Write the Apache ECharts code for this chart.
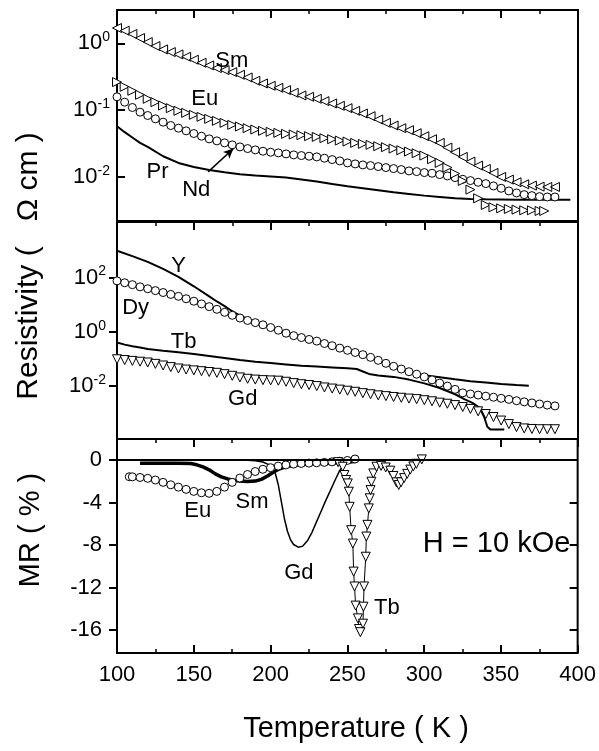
<!DOCTYPE html>
<html><head><meta charset="utf-8">
<script src="https://cdn.jsdelivr.net/npm/echarts@6/dist/echarts.min.js"></script>
<style>html,body{margin:0;padding:0;background:#fff}#c{width:599px;height:751px}</style>
</head><body><div id="c"></div>
<script>
// ---------- DATA (temperature K, log10 resistivity in Ω cm / MR in %) ----------
const xTicks = [100, 150, 200, 250, 300, 350, 400];
const topDecades = [-2, -1, 0];          // 10^-2 .. 10^0
const midDecades = [-2, 0, 2];           // 10^-2 .. 10^2
const mrTicks = [-16, -12, -8, -4, 0];

// top panel: log10(rho)
const topSm = [[100,0.23],[105,0.19],[110,0.14],[115,0.08],[120,0.02],[125,-0.04],[130,-0.09],[135,-0.13],[140,-0.165],[145,-0.2],[150,-0.245],[155,-0.29],[160,-0.33],[165,-0.37],[170,-0.4],[175,-0.43],[180,-0.47],[185,-0.51],[190,-0.56],[195,-0.6],[200,-0.635],[205,-0.665],[210,-0.7],[215,-0.74],[220,-0.78],[225,-0.8],[230,-0.83],[235,-0.865],[240,-0.9],[245,-0.935],[250,-0.97],[255,-1.01],[260,-1.05],[265,-1.09],[270,-1.14],[275,-1.19],[280,-1.23],[285,-1.27],[290,-1.3],[295,-1.345],[300,-1.39],[305,-1.435],[310,-1.49],[315,-1.56],[320,-1.63],[325,-1.7],[330,-1.77],[335,-1.83],[340,-1.88],[345,-1.94],[350,-2.0],[355,-2.04],[360,-2.08],[365,-2.11],[370,-2.13],[375,-2.145],[380,-2.15],[385,-2.15]];
const topEu = [[100,-0.58],[105,-0.65],[110,-0.71],[115,-0.77],[120,-0.83],[125,-0.88],[130,-0.93],[135,-0.97],[140,-1.01],[145,-1.04],[150,-1.07],[155,-1.1],[160,-1.13],[165,-1.16],[170,-1.19],[175,-1.22],[180,-1.245],[185,-1.27],[190,-1.29],[195,-1.31],[200,-1.325],[205,-1.34],[210,-1.355],[215,-1.365],[220,-1.375],[225,-1.39],[230,-1.4],[235,-1.42],[240,-1.435],[245,-1.455],[250,-1.47],[255,-1.49],[260,-1.505],[265,-1.52],[270,-1.54],[275,-1.555],[280,-1.575],[285,-1.6],[290,-1.62],[295,-1.645],[300,-1.68],[305,-1.735],[310,-1.79],[315,-1.86],[320,-1.95],[325,-2.06],[330,-2.19],[335,-2.32],[340,-2.42],[345,-2.455],[350,-2.47],[355,-2.48],[360,-2.49],[365,-2.5],[370,-2.5],[375,-2.51],[378,-2.51]];
const topNd = [[100,-0.8],[105,-0.88],[110,-0.96],[115,-1.03],[120,-1.08],[125,-1.13],[130,-1.18],[135,-1.23],[140,-1.27],[145,-1.31],[150,-1.35],[155,-1.39],[160,-1.43],[165,-1.46],[170,-1.49],[175,-1.52],[180,-1.55],[185,-1.575],[190,-1.595],[195,-1.615],[200,-1.63],[205,-1.64],[210,-1.655],[215,-1.67],[220,-1.68],[225,-1.69],[230,-1.7],[235,-1.72],[240,-1.74],[245,-1.76],[250,-1.79],[255,-1.805],[260,-1.82],[265,-1.83],[270,-1.845],[275,-1.86],[280,-1.875],[285,-1.89],[290,-1.91],[295,-1.92],[300,-1.935],[305,-1.945],[310,-1.965],[315,-1.985],[320,-2.01],[325,-2.035],[330,-2.055],[335,-2.08],[340,-2.1],[345,-2.135],[350,-2.17],[355,-2.21],[360,-2.24],[365,-2.265],[370,-2.28],[375,-2.295],[380,-2.3],[385,-2.3]];
const topPr = [[100,-1.24],[105,-1.33],[110,-1.41],[115,-1.49],[120,-1.55],[130,-1.69],[140,-1.79],[150,-1.85],[160,-1.895],[170,-1.93],[180,-1.96],[190,-1.98],[200,-1.995],[210,-2.01],[220,-2.04],[230,-2.07],[240,-2.105],[250,-2.14],[260,-2.17],[270,-2.2],[280,-2.23],[290,-2.255],[300,-2.28],[310,-2.3],[320,-2.32],[330,-2.33],[340,-2.335],[360,-2.34],[380,-2.34],[395,-2.34]];

// middle panel: log10(rho)
const midY = [[100,2.99],[110,2.79],[120,2.58],[130,2.32],[140,2.03],[150,1.68],[160,1.31],[165,1.12],[170,0.95],[175,0.76],[180,0.6],[190,0.37],[200,0.15],[210,-0.03],[220,-0.19],[230,-0.34],[240,-0.51],[250,-0.67],[260,-0.84],[270,-1.05],[280,-1.27],[290,-1.47],[295,-1.56],[300,-1.6],[310,-1.67],[320,-1.75],[330,-1.82],[340,-1.87],[350,-1.92],[360,-1.96],[368,-1.99]];
const midDy = [[100,1.88],[105,1.81],[110,1.74],[115,1.66],[120,1.59],[125,1.52],[130,1.45],[135,1.38],[140,1.31],[145,1.22],[150,1.13],[155,1.03],[160,0.93],[165,0.83],[170,0.72],[175,0.61],[180,0.51],[185,0.42],[190,0.34],[195,0.26],[200,0.16],[205,0.06],[210,-0.05],[215,-0.14],[220,-0.21],[225,-0.28],[230,-0.34],[235,-0.43],[240,-0.51],[245,-0.6],[250,-0.68],[255,-0.76],[260,-0.84],[265,-0.94],[270,-1.05],[275,-1.16],[280,-1.27],[285,-1.37],[290,-1.47],[295,-1.56],[300,-1.66],[305,-1.77],[310,-1.89],[315,-2.0],[320,-2.12],[325,-2.25],[330,-2.29],[335,-2.33],[340,-2.37],[345,-2.41],[350,-2.45],[355,-2.49],[360,-2.54],[365,-2.58],[370,-2.62],[375,-2.66],[380,-2.7],[385,-2.73]];
const midTb = [[100,-0.39],[105,-0.47],[110,-0.53],[115,-0.58],[120,-0.63],[130,-0.7],[140,-0.75],[150,-0.82],[160,-0.89],[170,-0.96],[180,-1.04],[190,-1.1],[200,-1.15],[210,-1.2],[220,-1.25],[230,-1.28],[240,-1.31],[250,-1.34],[256,-1.37],[260,-1.46],[264,-1.55],[270,-1.61],[280,-1.66],[290,-1.76],[300,-1.9],[310,-2.07],[320,-2.3],[326,-2.48],[332,-2.64],[336,-2.8],[339,-3.15],[341,-3.5],[343,-3.6],[352,-3.6]];
const midGd = [[100,-1.01],[105,-1.04],[110,-1.07],[115,-1.1],[120,-1.13],[125,-1.18],[130,-1.24],[135,-1.3],[140,-1.35],[145,-1.39],[150,-1.42],[155,-1.45],[160,-1.48],[165,-1.51],[170,-1.56],[175,-1.62],[180,-1.68],[185,-1.73],[190,-1.76],[195,-1.78],[200,-1.79],[205,-1.8],[210,-1.84],[215,-1.89],[220,-1.93],[225,-1.96],[230,-2.0],[235,-2.05],[240,-2.09],[245,-2.13],[250,-2.17],[255,-2.21],[260,-2.26],[265,-2.3],[270,-2.34],[275,-2.37],[280,-2.4],[285,-2.43],[290,-2.46],[295,-2.48],[300,-2.52],[305,-2.56],[310,-2.61],[315,-2.65],[320,-2.7],[325,-2.77],[330,-2.84],[335,-2.93],[340,-3.03],[345,-3.14],[350,-3.27],[355,-3.4],[360,-3.51],[365,-3.56],[370,-3.58],[375,-3.59],[380,-3.59],[385,-3.59]];

// bottom panel: MR (%)
const mrEu = [[108,-1.57],[110,-1.58],[115,-1.64],[120,-1.72],[125,-1.88],[130,-2.1],[135,-2.33],[140,-2.55],[145,-2.76],[150,-2.95],[155,-3.08],[160,-3.13],[165,-2.95],[170,-2.55],[175,-2.1],[180,-1.7],[185,-1.36],[190,-1.08],[195,-0.87],[200,-0.72],[205,-0.57],[210,-0.46],[215,-0.38],[220,-0.32],[225,-0.29],[230,-0.26],[235,-0.22],[240,-0.17],[245,-0.11],[250,-0.04],[255,0.1]];
const mrSm = [[115,-0.3],[120,-0.3],[130,-0.3],[140,-0.3],[148,-0.32],[152,-0.45],[156,-0.65],[160,-0.92],[164,-1.3],[168,-1.58],[172,-1.78],[176,-1.9],[180,-1.98],[185,-2.03],[190,-1.98],[194,-1.82],[198,-1.5],[202,-1.12],[206,-0.82],[210,-0.63],[215,-0.5],[220,-0.41],[230,-0.33],[240,-0.27],[250,-0.2],[256,-0.12]];
const mrGd = [[185,-0.02],[190,-0.06],[195,-0.18],[200,-0.5],[203,-1.2],[205,-2.3],[207,-3.9],[209,-5.5],[211,-6.7],[213,-7.5],[215,-7.95],[218,-8.2],[221,-8.1],[224,-7.6],[227,-6.8],[230,-5.8],[233,-4.8],[236,-3.8],[239,-2.85],[242,-1.9],[245,-1.0],[248,-0.4],[252,-0.15],[256,-0.05]];
const mrTb = [[244,-0.2],[247,-0.63],[248.1,-1.41],[249.2,-1.88],[250.3,-2.2],[251,-2.98],[251.5,-4.4],[252.5,-6.6],[253.6,-7.86],[254.1,-10.5],[254.7,-11.9],[255.4,-13.7],[256.9,-14.9],[257.6,-15.9],[258.5,-16.2],[260.2,-15.4],[260.5,-13.8],[260.9,-11.9],[262,-9.1],[262.4,-7.2],[263.1,-6.1],[264,-4.55],[264.6,-3.6],[265.1,-2.83],[265.7,-2.04],[266.9,-1.26],[269,-0.63],[272,-0.55],[275,-0.7],[278,-1.0],[280,-1.5],[282,-2.1],[283.5,-2.35],[285,-2.1],[287,-1.7],[289,-1.3],[291,-0.9],[293,-0.6],[295,-0.35],[298.5,0.06]];

// annotations: [text, T, value]
const topNotes = [['Sm',174.7,-0.265],['Eu',157.1,-0.825],['Pr',126.4,-1.925],['Nd',151.6,-2.2]];
const ndArrow = [[159.3,-1.925],[175.8,-1.575]];
const midNotes = [['Y',140,2.44],['Dy',112.1,0.9],['Tb',143.3,-0.39],['Gd',181.8,-2.48]];
const botNotes = [['Eu',152.6,-4.8],['Sm',187.9,-3.95],['Gd',218.4,-10.67],['Tb',275.7,-13.96]];
const fieldNote = [['H = 10 kOe',347.2,-7.87]];

// ---------- CHART ----------
const FONT = "'Liberation Sans', Arial, Helvetica, sans-serif";
const BLACK = '#000';
const gridL = 117, gridR = 21;

function xAxisTop(gi) {
  return { type:'value', gridIndex:gi, position:'top', min:100, max:400, interval:50,
    axisLine:{show:false, onZero:false},
    axisTick:{show:true, inside:true, length:8, lineStyle:{color:BLACK, width:2}},
    minorTick:{show:true, splitNumber:2, length:4, lineStyle:{color:BLACK, width:1.5}},
    axisLabel:{show:false}, splitLine:{show:false}, minorSplitLine:{show:false} };
}
const logRich = {
  b:{fontSize:22, lineHeight:26, fontFamily:FONT, color:BLACK},
  s:{fontSize:14, lineHeight:14, verticalAlign:'top', fontFamily:FONT, color:BLACK}
};
function logFmt(v){ return '{b|10}{s|' + Math.round(v) + '}'; }

function scatterSeries(xi, yi, data, symbol, rotate, size) {
  return { type:'scatter', xAxisIndex:xi, yAxisIndex:yi, data:data, symbol:symbol, symbolRotate:rotate,
    symbolSize:size, itemStyle:{color:'#fff', borderColor:BLACK, borderWidth:1, opacity:1}, silent:true, z:3 };
}
function lineSeries(xi, yi, data, width) {
  return { type:'line', xAxisIndex:xi, yAxisIndex:yi, data:data, showSymbol:false, symbol:'none',
    lineStyle:{color:BLACK, width:width}, silent:true, z:2 };
}
function noteSeries(xi, yi, notes, fs) {
  return { type:'scatter', xAxisIndex:xi, yAxisIndex:yi, silent:true, z:20, symbol:'circle', symbolSize:1,
    itemStyle:{color:'rgba(0,0,0,0)', opacity:1},
    label:{show:true, position:'inside', formatter:'{b}', fontSize:fs, fontFamily:FONT, color:BLACK, opacity:1},
    data: notes.map(n => ({name:n[0], value:[n[1], n[2]]})) };
}

const chart = echarts.init(document.getElementById('c'), null, {renderer:'canvas'});
const arrowSeries = noteSeries(0, 0, topNotes, 22);
arrowSeries.markLine = { silent:true, symbol:['none','arrow'], symbolSize:[7,10], label:{show:false},
  lineStyle:{color:BLACK, width:1.5, type:'solid', opacity:1},
  data:[[{coord:ndArrow[0]},{coord:ndArrow[1]}]] };
const zeroSeries = noteSeries(2, 2, botNotes, 22);
zeroSeries.markLine = { silent:true, symbol:['none','none'], label:{show:false},
  lineStyle:{color:BLACK, width:2, type:'solid', opacity:1}, data:[{yAxis:0}] };

chart.setOption({
  animation:false,
  backgroundColor:'#fff',
  textStyle:{fontFamily:FONT, color:BLACK},
  grid:[
    {left:gridL, right:gridR, top:10, height:211, show:true, borderColor:BLACK, borderWidth:2, backgroundColor:'transparent'},
    {left:gridL, right:gridR, top:222, height:217, show:true, borderColor:BLACK, borderWidth:2, backgroundColor:'transparent'},
    {left:gridL, right:gridR, top:439, height:214, show:true, borderColor:BLACK, borderWidth:2, backgroundColor:'transparent'}
  ],
  xAxis:[
    xAxisTop(0),
    xAxisTop(1),
    { type:'value', gridIndex:2, position:'bottom', min:100, max:400, interval:50,
      axisLine:{show:false, onZero:false},
      axisTick:{show:true, inside:true, length:8, lineStyle:{color:BLACK, width:2}},
      minorTick:{show:true, splitNumber:2, length:4, lineStyle:{color:BLACK, width:1.5}},
      axisLabel:{show:true, margin:11, fontSize:22, fontFamily:FONT, color:BLACK, customValues:xTicks},
      splitLine:{show:false} },
    xAxisTop(2)
  ],
  yAxis:[
    { type:'value', gridIndex:0, min:-2.66, max:0.5,
      axisLine:{show:false, onZero:false},
      axisTick:{show:true, inside:true, length:8, customValues:topDecades, lineStyle:{color:BLACK, width:2}},
      axisLabel:{show:true, margin:7, customValues:topDecades, formatter:logFmt, rich:logRich},
      splitLine:{show:false} },
    { type:'value', gridIndex:1, min:-3.95, max:4.05,
      axisLine:{show:false, onZero:false},
      axisTick:{show:true, inside:false, length:8, customValues:midDecades, lineStyle:{color:BLACK, width:2}},
      axisLabel:{show:true, margin:11, customValues:midDecades, formatter:logFmt, rich:logRich},
      splitLine:{show:false} },
    { type:'value', gridIndex:2, min:-18.16, max:1.98,
      axisLine:{show:false, onZero:false},
      axisTick:{show:true, inside:false, length:8, customValues:mrTicks, lineStyle:{color:BLACK, width:2}},
      axisLabel:{show:true, margin:15, fontSize:22, fontFamily:FONT, color:BLACK, customValues:mrTicks},
      splitLine:{show:false} },
    { type:'value', gridIndex:2, position:'right', min:-18.16, max:1.98,
      axisLine:{show:false, onZero:false},
      axisTick:{show:true, inside:true, length:8, customValues:[-16,-12,-8,-4], lineStyle:{color:BLACK, width:2}},
      axisLabel:{show:false}, splitLine:{show:false} }
  ],
  series:[
    lineSeries(0, 0, topPr, 2),
    scatterSeries(0, 0, topNd, 'circle', 0, 8),
    scatterSeries(0, 0, topEu, 'triangle', -90, 9),
    scatterSeries(0, 0, topSm, 'triangle', 90, 9),
    arrowSeries,

    lineSeries(1, 1, midY, 2),
    lineSeries(1, 1, midTb, 2),
    scatterSeries(1, 1, midGd, 'triangle', 180, 9),
    scatterSeries(1, 1, midDy, 'circle', 0, 8),
    noteSeries(1, 1, midNotes, 22),

    lineSeries(2, 2, mrSm, 3.5),
    lineSeries(2, 2, mrGd, 1.5),
    scatterSeries(2, 2, mrEu, 'circle', 0, 8),
    { type:'line', xAxisIndex:2, yAxisIndex:2, data:mrTb, showSymbol:true, symbol:'triangle', symbolRotate:180,
      symbolSize:9, itemStyle:{color:'#fff', borderColor:BLACK, borderWidth:1, opacity:1},
      lineStyle:{color:BLACK, width:1}, silent:true, z:4 },
    zeroSeries,
    noteSeries(2, 2, fieldNote, 29)
  ],
  graphic:[
    { type:'text', x:29, y:266, rotation:Math.PI/2, silent:true,
      style:{text:'Resistivity (   \u03A9 cm )', fontSize:30, fontFamily:FONT, fill:BLACK, align:'center', verticalAlign:'middle'} },
    { type:'text', x:31, y:530, rotation:Math.PI/2, silent:true,
      style:{text:'MR ( % )', fontSize:29, fontFamily:FONT, fill:BLACK, align:'center', verticalAlign:'middle'} },
    { type:'text', x:356, y:729, silent:true,
      style:{text:'Temperature ( K )', fontSize:29, fontFamily:FONT, fill:BLACK, align:'center', verticalAlign:'middle'} }
  ]
});
</script></body></html>
